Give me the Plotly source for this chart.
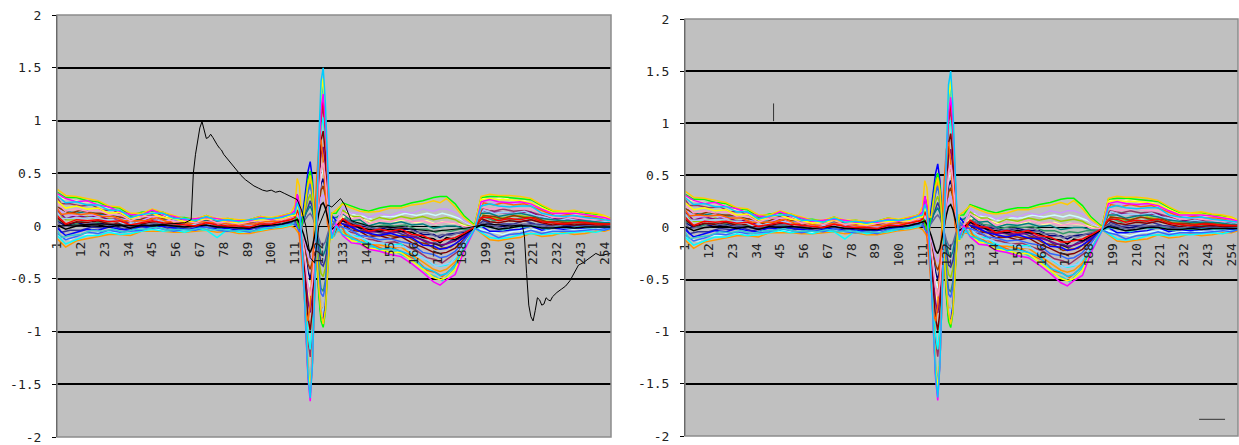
import plotly.graph_objects as go

# ---- category knots (x positions are category numbers 1..257) ----
XA = [1, 5, 10, 15, 20, 25, 30, 35, 40, 45, 50, 55, 60, 65, 70, 75, 80, 85, 90, 95, 100, 105, 109]
XB = [111, 112, 113, 114, 115, 116, 117, 118, 119, 120, 121, 122, 123, 124, 125, 126, 127, 128, 130]
XC = [133, 137, 141, 145, 150, 155, 160, 165, 170, 175, 178, 181, 185, 189, 194,
      197, 201, 205, 210, 215, 220, 225, 230, 235, 240, 245, 250, 254, 257]
X = XA + XB + XC

XA2 = [1, 3, 7, 12, 17, 22, 27, 32, 37, 42, 47, 52, 57, 62, 67, 72, 77, 82, 87, 92, 97, 102, 107]
XB2 = [110, 112, 113, 114, 115, 116, 117, 118, 119, 120, 121, 122, 123, 124, 125, 126, 127, 129, 131]
XC2 = [135, 139, 143, 147, 152, 157, 162, 167, 172, 176, 179, 183, 187, 191, 194,
       198, 203, 207, 212, 217, 222, 227, 232, 237, 242, 247, 252, 255, 257]
X2 = XA2 + XB2 + XC2

CAT_TICKS = [1, 12, 23, 34, 45, 56, 67, 78, 89, 100, 111, 122, 133, 144, 155, 166, 177,
             188, 199, 210, 221, 232, 243, 254]
Y_TICKS = [-2, -1.5, -1, -0.5, 0, 0.5, 1, 1.5, 2]
Y_LABELS = ["-2", "-1.5", "-1", "-0.5", "0", "0.5", "1", "1.5", "2"]

# ---- series values on knots X ----
s_navy = [0.05, 0.00, 0.03, 0.01, 0.03, 0.01, 0.02, -0.01, 0.02, 0.01, 0.03, 0.00, 0.00, -0.01, 0.02, 0.00, -0.01, -0.01, -0.02, 0.01, 0.01, 0.03, 0.05,
          0.05, 0.08, 0.05, -0.03, -0.15, -0.3, -0.43, -0.5, -0.4, -0.21, 0.03, 0.24, 0.4, 0.45, 0.35, 0.17, 0.02, -0.04, 0.0,
          0.07, 0.04, 0.00, -0.01, -0.03, -0.01, -0.03, -0.03, -0.08, -0.08, -0.11, -0.08, -0.07, -0.06, -0.01,
          0.02, 0.01, -0.01, 0.01, 0.00, 0.02, -0.01, 0.00, -0.01, 0.00, 0.00, -0.01, 0.00, 0.00]
s_magenta = [0.31, 0.26, 0.23, 0.24, 0.20, 0.18, 0.14, 0.11, 0.10, 0.15, 0.11, 0.09, 0.06, 0.07, 0.08, 0.07, 0.05, 0.05, 0.05, 0.08, 0.06, 0.09, 0.11,
             0.15, 0.3, 0.2, -0.1, -0.5, -1.0, -1.45, -1.66, -1.3, -0.65, 0.1, 0.7, 1.1, 1.25, 1.0, 0.5, 0.08, -0.1, 0.02,
             -0.09, -0.16, -0.17, -0.22, -0.24, -0.27, -0.29, -0.36, -0.44, -0.53, -0.56, -0.51, -0.46, -0.24, -0.03,
             0.23, 0.25, 0.23, 0.22, 0.23, 0.21, 0.16, 0.12, 0.12, 0.12, 0.11, 0.09, 0.08, 0.06]
s_yellow = [0.24, 0.17, 0.19, 0.16, 0.17, 0.12, 0.13, 0.07, 0.10, 0.12, 0.08, 0.07, 0.04, 0.05, 0.07, 0.06, 0.04, 0.03, 0.05, 0.06, 0.06, 0.07, 0.10,
            0.1, 0.2, 0.14, -0.1, -0.47, -0.93, -1.35, -1.55, -1.26, -0.65, 0.1, 0.75, 1.26, 1.40, 1.07, 0.52, 0.05, -0.13, 0.0,
            -0.07, -0.14, -0.15, -0.21, -0.22, -0.25, -0.25, -0.33, -0.41, -0.49, -0.51, -0.49, -0.41, -0.22, -0.02,
            0.25, 0.26, 0.25, 0.25, 0.24, 0.22, 0.17, 0.13, 0.13, 0.13, 0.11, 0.10, 0.09, 0.06]
s_cyan = [-0.09, -0.17, -0.13, -0.09, -0.09, -0.06, -0.08, -0.07, -0.05, -0.03, -0.05, -0.04, -0.06, -0.03, -0.04, -0.11, -0.03, -0.06, -0.05, -0.04, -0.02, -0.01, 0.01,
          0.05, 0.1, 0.05, -0.1, -0.38, -0.72, -1.03, -1.17, -0.96, -0.5, 0.06, 0.55, 0.93, 1.03, 0.79, 0.37, 0.02, -0.12, -0.05,
          -0.03, -0.09, -0.10, -0.16, -0.16, -0.18, -0.17, -0.25, -0.30, -0.37, -0.38, -0.37, -0.31, -0.18, -0.02,
          -0.06, -0.11, -0.12, -0.11, -0.08, -0.07, -0.08, -0.07, -0.07, -0.06, -0.05, -0.06, -0.04, -0.02]
s_purple = [0.15, 0.07, 0.10, 0.08, 0.10, 0.06, 0.07, 0.02, 0.06, 0.06, 0.06, 0.02, 0.03, 0.01, 0.05, 0.02, 0.03, 0.00, 0.02, 0.03, 0.04, 0.05, 0.08,
            0.12, 0.3, 0.2, -0.05, -0.25, -0.5, -0.72, -0.82, -0.67, -0.35, 0.05, 0.4, 0.68, 0.75, 0.58, 0.28, 0.03, -0.08, 0.0,
            0.05, -0.01, -0.01, -0.06, -0.05, -0.07, -0.05, -0.10, -0.13, -0.17, -0.18, -0.17, -0.14, -0.09, -0.01,
            0.15, 0.13, 0.13, 0.12, 0.13, 0.13, 0.08, 0.07, 0.06, 0.06, 0.05, 0.05, 0.04, 0.03]
s_darkred = [0.08, 0.01, 0.04, 0.03, 0.05, 0.02, 0.03, 0.00, 0.02, 0.04, 0.02, 0.01, -0.01, 0.01, 0.02, 0.01, -0.01, -0.01, -0.02, 0.02, 0.01, 0.04, 0.05,
             0.1, 0.15, 0.1, -0.06, -0.3, -0.6, -0.87, -0.99, -0.81, -0.42, 0.06, 0.48, 0.81, 0.9, 0.69, 0.33, 0.03, -0.09, -0.03,
             0.02, -0.04, -0.05, -0.10, -0.09, -0.12, -0.10, -0.16, -0.20, -0.25, -0.26, -0.25, -0.21, -0.13, -0.02,
             0.07, 0.04, 0.03, 0.05, 0.04, 0.06, 0.03, 0.01, 0.02, 0.01, 0.02, 0.01, 0.01, 0.01]
s_teal = [0.18, 0.14, 0.12, 0.14, 0.11, 0.11, 0.08, 0.06, 0.06, 0.10, 0.06, 0.05, 0.03, 0.04, 0.05, 0.04, 0.02, 0.02, 0.01, 0.05, 0.04, 0.07, 0.08,
          0.08, 0.06, 0.03, 0.02, 0.06, 0.12, 0.16, 0.19, 0.14, 0.04, -0.08, -0.19, -0.26, -0.28, -0.23, -0.12, 0.0, 0.08, 0.08,
          0.12, 0.05, 0.06, 0.00, 0.03, 0.02, 0.04, 0.01, 0.02, -0.02, -0.01, 0.00, 0.00, -0.02, -0.01,
          0.12, 0.12, 0.09, 0.11, 0.12, 0.10, 0.07, 0.06, 0.05, 0.05, 0.05, 0.04, 0.03, 0.03]
s_blue = [-0.02, -0.09, -0.06, -0.03, -0.04, -0.01, -0.03, -0.04, 0.00, -0.02, 0.00, -0.02, -0.03, -0.02, 0.00, -0.03, -0.02, -0.04, -0.03, -0.01, 0.00, 0.01, 0.03,
          0.05, 0.0, -0.05, 0.02, 0.17, 0.37, 0.52, 0.61, 0.45, 0.1, -0.3, -0.62, -0.85, -0.9, -0.75, -0.42, -0.08, 0.1, 0.05,
          0.02, -0.01, -0.05, -0.07, -0.09, -0.07, -0.10, -0.11, -0.18, -0.19, -0.22, -0.21, -0.17, -0.11, -0.02,
          0.00, -0.05, -0.05, -0.04, -0.03, 0.00, -0.04, -0.02, -0.03, -0.02, -0.02, -0.01, -0.02, -0.01]
s_sky = [0.29, 0.22, 0.23, 0.20, 0.20, 0.15, 0.15, 0.08, 0.11, 0.12, 0.12, 0.07, 0.07, 0.05, 0.09, 0.05, 0.06, 0.04, 0.06, 0.07, 0.07, 0.08, 0.11,
         0.12, 0.22, 0.16, -0.08, -0.48, -0.98, -1.42, -1.63, -1.33, -0.68, 0.12, 0.82, 1.37, 1.5, 1.17, 0.57, 0.08, -0.12, 0.0,
         -0.08, -0.11, -0.15, -0.17, -0.22, -0.21, -0.24, -0.28, -0.39, -0.43, -0.47, -0.45, -0.37, -0.21, -0.03,
         0.19, 0.21, 0.19, 0.18, 0.19, 0.19, 0.12, 0.10, 0.09, 0.10, 0.08, 0.07, 0.06, 0.05]
s_red = [0.10, 0.02, 0.06, 0.05, 0.06, 0.04, 0.05, 0.01, 0.03, 0.05, 0.03, 0.02, 0.01, 0.00, 0.03, 0.01, 0.00, 0.00, -0.01, 0.02, 0.02, 0.04, 0.06,
         0.08, 0.15, 0.1, -0.12, -0.5, -1.0, -1.4, -1.6, -1.3, -0.66, 0.05, 0.62, 1.05, 1.2, 0.92, 0.44, 0.04, -0.12, -0.03,
         0.07, 0.01, 0.00, -0.05, -0.03, -0.05, -0.03, -0.08, -0.09, -0.14, -0.14, -0.13, -0.11, -0.07, -0.01,
         0.08, 0.08, 0.05, 0.07, 0.06, 0.08, 0.04, 0.03, 0.02, 0.03, 0.03, 0.02, 0.02, 0.02]
s_green = [0.32, 0.27, 0.27, 0.24, 0.23, 0.18, 0.17, 0.10, 0.13, 0.14, 0.13, 0.08, 0.08, 0.06, 0.10, 0.06, 0.07, 0.05, 0.06, 0.09, 0.07, 0.10, 0.12,
           0.1, 0.05, -0.02, 0.0, 0.12, 0.3, 0.44, 0.52, 0.4, 0.08, -0.32, -0.66, -0.9, -0.96, -0.82, -0.46, -0.1, 0.12, 0.12,
           0.22, 0.19, 0.16, 0.14, 0.17, 0.19, 0.19, 0.22, 0.24, 0.27, 0.28, 0.28, 0.21, 0.10, 0.01,
           0.27, 0.28, 0.28, 0.27, 0.26, 0.25, 0.19, 0.14, 0.13, 0.14, 0.12, 0.11, 0.09, 0.07]
s_pink = [0.22, 0.14, 0.16, 0.14, 0.15, 0.11, 0.11, 0.05, 0.09, 0.09, 0.09, 0.04, 0.05, 0.03, 0.07, 0.03, 0.04, 0.02, 0.04, 0.05, 0.06, 0.06, 0.09,
          0.1, 0.12, 0.08, -0.04, -0.2, -0.4, -0.58, -0.66, -0.54, -0.28, 0.04, 0.32, 0.54, 0.6, 0.46, 0.22, 0.02, -0.06, 0.02,
          0.13, 0.07, 0.08, 0.02, 0.05, 0.04, 0.07, 0.04, 0.05, 0.02, 0.03, 0.04, 0.03, -0.01, -0.01,
          0.18, 0.16, 0.17, 0.18, 0.16, 0.16, 0.12, 0.08, 0.09, 0.08, 0.07, 0.06, 0.06, 0.04]
s_black = [0.01, -0.03, 0.00, 0.01, 0.01, -0.01, 0.01, -0.02, 0.01, 0.00, 0.01, 0.00, -0.01, 0.00, 0.01, -0.01, -0.01, -0.02, -0.02, 0.00, 0.01, 0.02, 0.04,
           0.05, 0.06, 0.03, -0.02, -0.08, -0.15, -0.22, -0.25, -0.2, -0.1, 0.02, 0.12, 0.2, 0.22, 0.17, 0.08, 0.0, -0.03, 0.0,
           0.05, 0.02, -0.02, -0.03, -0.05, -0.03, -0.05, -0.06, -0.11, -0.12, -0.16, -0.11, -0.13, -0.08, -0.02,
           0.01, -0.01, -0.03, -0.02, 0.00, 0.00, -0.02, -0.02, -0.01, -0.02, -0.01, -0.01, -0.01, -0.01]
s_orange = [-0.12, -0.20, -0.14, -0.12, -0.10, -0.08, -0.08, -0.09, -0.05, -0.05, -0.05, -0.06, -0.06, -0.05, -0.04, -0.06, -0.05, -0.07, -0.07, -0.05, -0.03, -0.02, 0.00,
            -0.02, -0.05, -0.08, -0.05, 0.08, 0.24, 0.36, 0.44, 0.32, 0.04, -0.28, -0.56, -0.76, -0.8, -0.68, -0.4, -0.12, 0.04, -0.05,
            -0.06, -0.10, -0.12, -0.18, -0.18, -0.20, -0.20, -0.27, -0.34, -0.41, -0.43, -0.41, -0.34, -0.19, -0.02,
            -0.07, -0.13, -0.14, -0.12, -0.11, -0.07, -0.10, -0.09, -0.06, -0.08, -0.07, -0.05, -0.05, -0.03]
s_lavender = [0.17, 0.11, 0.10, 0.12, 0.09, 0.10, 0.07, 0.05, 0.05, 0.09, 0.05, 0.05, 0.02, 0.03, 0.04, 0.03, 0.02, 0.02, 0.01, 0.04, 0.03, 0.06, 0.07,
              0.08, 0.1, 0.07, -0.02, -0.1, -0.2, -0.29, -0.33, -0.27, -0.14, 0.02, 0.16, 0.27, 0.3, 0.23, 0.11, 0.01, -0.03, 0.02,
              0.18, 0.12, 0.13, 0.08, 0.12, 0.10, 0.14, 0.12, 0.16, 0.14, 0.16, 0.16, 0.13, 0.05, 0.00,
              0.22, 0.21, 0.22, 0.21, 0.21, 0.19, 0.15, 0.10, 0.11, 0.10, 0.09, 0.09, 0.07, 0.05]
s_lime = [0.11, 0.06, 0.06, 0.09, 0.06, 0.07, 0.04, 0.02, 0.04, 0.07, 0.04, 0.03, 0.00, 0.02, 0.03, 0.02, 0.00, 0.01, -0.01, 0.03, 0.02, 0.05, 0.06,
          0.08, 0.05, 0.0, 0.0, 0.08, 0.17, 0.25, 0.3, 0.22, 0.05, -0.15, -0.33, -0.45, -0.48, -0.4, -0.22, -0.04, 0.06, 0.05,
          0.15, 0.09, 0.09, 0.04, 0.08, 0.06, 0.09, 0.07, 0.09, 0.06, 0.07, 0.08, 0.06, 0.01, -0.01,
          0.11, 0.09, 0.07, 0.09, 0.10, 0.08, 0.05, 0.04, 0.05, 0.03, 0.04, 0.03, 0.03, 0.02]
s_gold = [0.35, 0.29, 0.28, 0.26, 0.24, 0.19, 0.18, 0.12, 0.12, 0.16, 0.13, 0.10, 0.07, 0.07, 0.10, 0.07, 0.07, 0.06, 0.06, 0.09, 0.08, 0.10, 0.12,
          0.2, 0.45, 0.38, 0.1, 0.1, 0.25, 0.4, 0.48, 0.35, 0.05, -0.28, -0.58, -0.82, -0.93, -0.8, -0.46, -0.1, 0.12, 0.15,
          0.21, 0.17, 0.14, 0.13, 0.14, 0.17, 0.17, 0.20, 0.21, 0.24, 0.22, 0.26, 0.18, 0.08, 0.00,
          0.28, 0.30, 0.29, 0.29, 0.28, 0.26, 0.20, 0.15, 0.14, 0.15, 0.13, 0.12, 0.10, 0.07]
s_lightblue = [-0.07, -0.13, -0.10, -0.06, -0.07, -0.04, -0.06, -0.05, -0.04, -0.01, -0.03, -0.05, -0.03, -0.04, -0.01, -0.04, -0.05, -0.04, -0.06, -0.02, -0.02, 0.00, 0.02,
               0.02, -0.02, -0.05, -0.02, 0.08, 0.22, 0.33, 0.4, 0.3, 0.06, -0.22, -0.47, -0.64, -0.67, -0.57, -0.33, -0.08, 0.06, 0.0,
               -0.01, -0.04, -0.09, -0.10, -0.13, -0.12, -0.15, -0.17, -0.25, -0.27, -0.30, -0.29, -0.24, -0.14, -0.02,
               -0.05, -0.07, -0.11, -0.08, -0.07, -0.04, -0.07, -0.05, -0.05, -0.05, -0.04, -0.03, -0.04, -0.02]

# ---- series values on knots X2 ----
t_plum = [0.27, 0.21, 0.21, 0.19, 0.20, 0.15, 0.15, 0.09, 0.09, 0.09, 0.12, 0.08, 0.07, 0.04, 0.06, 0.05, 0.06, 0.03, 0.05, 0.05, 0.07, 0.06, 0.09,
          0.08, 0.15, 0.11, -0.08, -0.38, -0.75, -1.09, -1.24, -1.01, -0.53, 0.08, 0.6, 1.01, 1.13, 0.86, 0.41, 0.04, -0.08, 0.03,
          -0.05, -0.07, -0.12, -0.13, -0.16, -0.15, -0.19, -0.23, -0.30, -0.32, -0.35, -0.29, -0.23, -0.10, -0.02,
          0.17, 0.14, 0.16, 0.14, 0.15, 0.12, 0.09, 0.06, 0.08, 0.06, 0.07, 0.05, 0.04, 0.03]
t_indigo = [0.01, -0.06, -0.04, -0.04, -0.01, -0.02, 0.00, -0.03, -0.01, -0.01, 0.01, -0.02, -0.01, -0.03, 0.00, -0.02, -0.01, -0.03, -0.03, -0.02, -0.01, 0.01, 0.02,
            0.02, 0.0, -0.02, 0.0, 0.06, 0.14, 0.2, 0.24, 0.18, 0.04, -0.12, -0.26, -0.36, -0.38, -0.32, -0.18, -0.04, 0.03, 0.02,
            0.01, 0.00, -0.05, -0.05, -0.07, -0.05, -0.09, -0.10, -0.16, -0.16, -0.19, -0.14, -0.12, -0.06, -0.02,
            0.05, 0.01, 0.02, 0.02, 0.05, 0.02, 0.01, -0.01, 0.01, 0.00, 0.01, -0.01, 0.00, 0.01]
t_orangered = [0.17, 0.11, 0.12, 0.11, 0.12, 0.09, 0.09, 0.05, 0.05, 0.05, 0.08, 0.04, 0.04, 0.02, 0.04, 0.03, 0.03, 0.01, 0.02, 0.02, 0.04, 0.04, 0.07,
               0.06, 0.05, -0.1, -0.3, -0.58, -0.82, -0.9, -0.75, -0.38, 0.06, 0.45, 0.75, 0.82, 0.62, 0.3, 0.02, -0.06, -0.03, 0.05,
               -0.10, -0.12, -0.17, -0.18, -0.22, -0.21, -0.27, -0.32, -0.42, -0.44, -0.48, -0.41, -0.31, -0.13, -0.03,
               0.22, 0.20, 0.22, 0.20, 0.21, 0.17, 0.13, 0.09, 0.11, 0.09, 0.09, 0.07, 0.06, 0.05]
t_seagreen = [0.06, 0.04, 0.00, 0.04, 0.03, 0.04, 0.02, 0.02, 0.00, 0.04, 0.02, 0.02, -0.01, 0.01, 0.00, 0.02, -0.01, 0.00, -0.02, 0.01, 0.00, 0.03, 0.04,
              0.04, 0.02, -0.02, 0.0, 0.1, 0.23, 0.33, 0.39, 0.29, 0.07, -0.2, -0.42, -0.59, -0.62, -0.52, -0.29, -0.07, 0.05, 0.04,
              0.08, 0.03, 0.02, -0.01, 0.01, 0.00, 0.01, -0.03, -0.03, -0.06, -0.04, -0.05, -0.03, -0.03, -0.01,
              0.09, 0.05, 0.07, 0.06, 0.08, 0.05, 0.04, 0.02, 0.03, 0.02, 0.03, 0.02, 0.02, 0.01]
t_turq = [-0.08, -0.11, -0.13, -0.08, -0.08, -0.05, -0.06, -0.06, -0.04, -0.04, -0.03, -0.05, -0.04, -0.05, -0.03, -0.04, -0.04, -0.05, -0.06, -0.04, -0.03, -0.02, 0.00,
          0.03, 0.07, 0.05, -0.04, -0.18, -0.35, -0.51, -0.58, -0.47, -0.25, 0.04, 0.28, 0.47, 0.53, 0.4, 0.19, 0.02, -0.04, 0.0,
          0.14, 0.10, 0.09, 0.06, 0.09, 0.09, 0.12, 0.10, 0.12, 0.10, 0.12, 0.10, 0.07, 0.02, -0.01,
          -0.04, -0.06, -0.08, -0.05, -0.04, -0.03, -0.05, -0.04, -0.03, -0.04, -0.03, -0.02, -0.03, -0.02]
t_ltyellow = [0.31, 0.26, 0.25, 0.23, 0.23, 0.18, 0.17, 0.12, 0.11, 0.11, 0.14, 0.09, 0.08, 0.06, 0.08, 0.07, 0.07, 0.05, 0.06, 0.06, 0.08, 0.08, 0.11,
              0.1, 0.14, 0.1, -0.03, -0.2, -0.43, -0.63, -0.72, -0.58, -0.3, 0.06, 0.38, 0.62, 0.68, 0.52, 0.26, 0.04, -0.03, 0.05,
              0.11, 0.06, 0.06, 0.03, 0.05, 0.04, 0.06, 0.03, 0.05, 0.02, 0.04, 0.03, 0.02, -0.01, -0.01,
              0.26, 0.25, 0.27, 0.24, 0.24, 0.20, 0.16, 0.12, 0.13, 0.11, 0.11, 0.10, 0.07, 0.06]
t_paleblue = [0.13, 0.07, 0.07, 0.07, 0.08, 0.06, 0.06, 0.02, 0.03, 0.04, 0.06, 0.02, 0.02, 0.00, 0.03, 0.01, 0.02, -0.01, 0.01, 0.00, 0.03, 0.02, 0.05,
              0.05, 0.02, -0.03, 0.01, 0.14, 0.31, 0.44, 0.52, 0.39, 0.09, -0.25, -0.55, -0.77, -0.81, -0.68, -0.38, -0.08, 0.07, 0.05,
              -0.05, -0.11, -0.12, -0.16, -0.16, -0.19, -0.20, -0.28, -0.32, -0.38, -0.37, -0.35, -0.24, -0.12, -0.02,
              0.15, 0.12, 0.13, 0.12, 0.14, 0.10, 0.08, 0.05, 0.07, 0.05, 0.06, 0.04, 0.04, 0.03]
t_aqua = [-0.04, -0.11, -0.09, -0.08, -0.04, -0.05, -0.03, -0.06, -0.03, -0.03, -0.01, -0.04, -0.03, -0.04, -0.02, -0.04, -0.03, -0.05, -0.04, -0.05, -0.02, -0.01, 0.01,
          0.02, 0.15, 0.12, -0.1, -0.45, -0.9, -1.3, -1.5, -1.22, -0.63, 0.09, 0.72, 1.2, 1.33, 1.03, 0.5, 0.05, -0.1, -0.02,
          -0.11, -0.14, -0.19, -0.20, -0.24, -0.24, -0.29, -0.35, -0.45, -0.48, -0.52, -0.44, -0.33, -0.14, -0.03,
          0.00, -0.02, -0.04, -0.01, -0.01, 0.00, -0.03, -0.01, -0.02, -0.01, -0.02, -0.01, -0.01, -0.01]
t_brown = [0.18, 0.16, 0.12, 0.15, 0.12, 0.12, 0.09, 0.08, 0.04, 0.08, 0.07, 0.07, 0.03, 0.04, 0.03, 0.05, 0.02, 0.03, 0.01, 0.04, 0.03, 0.06, 0.07,
           0.08, 0.07, 0.05, -0.02, -0.12, -0.25, -0.36, -0.41, -0.34, -0.18, 0.03, 0.2, 0.34, 0.38, 0.29, 0.14, 0.02, -0.02, 0.03,
           0.01, -0.04, -0.05, -0.09, -0.08, -0.10, -0.09, -0.15, -0.17, -0.22, -0.21, -0.20, -0.14, -0.07, -0.02,
           0.10, 0.09, 0.07, 0.10, 0.08, 0.08, 0.04, 0.04, 0.03, 0.04, 0.03, 0.02, 0.02, 0.02]
t_bluegray = [0.05, -0.01, 0.00, 0.00, 0.03, 0.01, 0.02, -0.01, 0.01, 0.01, 0.03, 0.00, 0.00, -0.02, 0.01, -0.01, 0.00, -0.02, -0.01, -0.02, 0.01, 0.01, 0.03,
              0.04, 0.02, 0.0, 0.01, 0.04, 0.08, 0.1, 0.12, 0.09, 0.03, -0.05, -0.12, -0.17, -0.18, -0.15, -0.08, -0.01, 0.03, 0.03,
              0.06, 0.01, 0.01, -0.03, -0.01, -0.03, -0.01, -0.06, -0.06, -0.10, -0.08, -0.09, -0.06, -0.04, -0.01,
              0.03, 0.00, -0.02, 0.01, 0.02, 0.01, -0.01, 0.00, -0.02, -0.01, 0.00, -0.01, 0.00, 0.00]

SERIES = [
    (X, s_navy, "#000080"), (X2, t_turq, "#CCFFFF"), (X, s_orange, "#FF9900"), (X2, t_plum, "#993366"),
    (X, s_lime, "#99CC00"), (X2, t_indigo, "#333399"), (X, s_cyan, "#00FFFF"), (X2, t_ltyellow, "#FFFF99"),
    (X, s_purple, "#800080"), (X2, t_seagreen, "#339966"), (X, s_darkred, "#800000"), (X2, t_paleblue, "#99CCFF"),
    (X, s_teal, "#008080"), (X2, t_brown, "#993300"), (X, s_blue, "#0000FF"), (X2, t_bluegray, "#666699"),
    (X, s_lavender, "#CC99FF"), (X2, t_orangered, "#FF6600"), (X, s_lightblue, "#3366FF"), (X2, t_aqua, "#33CCCC"),
    (X, s_pink, "#FF99CC"), (X, s_green, "#00FF00"), (X, s_gold, "#FFCC00"), (X, s_black, "#000000"),
    (X, s_red, "#FF0000"), (X, s_yellow, "#FFFF00"), (X, s_magenta, "#FF00FF"), (X, s_sky, "#00CCFF"),
]

# outlier series drawn only in the left chart
OUT_X = [1, 20, 40, 60, 63, 64, 65, 66, 67, 68, 69, 70, 71, 72, 73, 74, 75, 76, 77, 78, 80, 82, 84, 86, 88,
         90, 92, 94, 96, 98, 100, 102, 104, 106, 108, 110, 112, 114, 116, 118, 120, 122, 124, 126, 128, 130,
         132, 134, 137, 145, 160, 175, 190, 200, 210, 216, 217, 218, 219, 220, 221, 222, 223, 224, 225, 226,
         227, 228, 229, 230, 232, 234, 236, 238, 240, 242, 244, 246, 248, 250, 252, 254, 257]
OUT_Y = [0.0, 0.02, 0.0, 0.03, 0.06, 0.5, 0.68, 0.82, 0.93, 0.99, 0.9, 0.83, 0.84, 0.87, 0.84, 0.8, 0.77, 0.74, 0.72, 0.68, 0.63, 0.58, 0.52, 0.48, 0.44,
         0.41, 0.38, 0.36, 0.34, 0.33, 0.34, 0.32, 0.33, 0.31, 0.29, 0.27, 0.25, 0.15, 0.0, -0.3, -0.35, 0.0, 0.1, 0.2, 0.18, 0.22,
         0.26, 0.2, 0.05, 0.0, -0.02, -0.05, -0.02, 0.02, 0.0, 0.01, -0.1, -0.45, -0.75, -0.86, -0.9, -0.8, -0.68, -0.7, -0.75, -0.74,
         -0.68, -0.7, -0.71, -0.67, -0.63, -0.6, -0.57, -0.52, -0.45, -0.37, -0.35, -0.32, -0.29, -0.26, -0.28, -0.27, -0.26]

# stray marks in the right chart
MARK_V_X = [42, 42]
MARK_V_Y = [1.02, 1.19]
MARK_H_X = [239, 251]
MARK_H_Y = [-1.84, -1.84]

fig = go.Figure()
for xa, ya in (("x", "y"), ("x2", "y2")):
    for xs, vals, col in SERIES:
        fig.add_trace(go.Scatter(x=xs, y=vals, mode="lines", xaxis=xa, yaxis=ya,
                                 line=dict(color=col, width=1.5), hoverinfo="skip"))
fig.add_trace(go.Scatter(x=OUT_X, y=OUT_Y, mode="lines", xaxis="x", yaxis="y",
                         line=dict(color="#000000", width=1), hoverinfo="skip"))
fig.add_trace(go.Scatter(x=MARK_V_X, y=MARK_V_Y, mode="lines", xaxis="x2", yaxis="y2",
                         line=dict(color="#333333", width=1), hoverinfo="skip"))
fig.add_trace(go.Scatter(x=MARK_H_X, y=MARK_H_Y, mode="lines", xaxis="x2", yaxis="y2",
                         line=dict(color="#333333", width=1), hoverinfo="skip"))

W, H = 1239, 445
font = dict(family="DejaVu Sans Mono", size=13, color="#222222")

def xaxis_cfg(left, right, top, bottom):
    return dict(domain=[left / W, right / W], range=[1, 257], anchor="free",
                position=1 - (top + bottom) / 2 / H, automargin=False,
                tickmode="array", tickvals=CAT_TICKS, ticktext=[str(t) for t in CAT_TICKS],
                tickangle=-90, showgrid=False, zeroline=False, showline=False, ticks="",
                ticklabelstandoff=12, tickfont=font)

def yaxis_cfg(top, bottom, anchor):
    return dict(domain=[1 - bottom / H, 1 - top / H], range=[-2, 2], anchor=anchor,
                automargin=False,
                tickmode="array", tickvals=Y_TICKS, ticktext=Y_LABELS,
                showgrid=True, gridcolor="#000000", gridwidth=1.5,
                zeroline=True, zerolinecolor="#000000", zerolinewidth=1,
                showline=True, linecolor="#000000", linewidth=1,
                ticks="outside", ticklen=4, tickcolor="#000000",
                ticklabelstandoff=8, tickfont=font)

fig.update_layout(
    width=W, height=H, margin=dict(l=0, r=0, t=0, b=0, autoexpand=False),
    paper_bgcolor="white", plot_bgcolor="#C0C0C0", showlegend=False,
    xaxis=xaxis_cfg(57, 611, 15, 437),
    yaxis=yaxis_cfg(15, 437, "x"),
    xaxis2=xaxis_cfg(685, 1238, 19, 436),
    yaxis2=yaxis_cfg(19, 436, "x2"),
    shapes=[
        dict(type="rect", xref="x domain", yref="y domain", x0=0, x1=1, y0=0, y1=1,
             line=dict(color="#8C8C8C", width=1.5), layer="above"),
        dict(type="rect", xref="x2 domain", yref="y2 domain", x0=0, x1=1, y0=0, y1=1,
             line=dict(color="#8C8C8C", width=1.5), layer="above"),
    ],
)

# remove the default page margin so the figure fills the window exactly
fig.write_html("out.html", config={"displayModeBar": False},
               post_script="document.body.style.margin='0';document.body.style.overflow='hidden';")
